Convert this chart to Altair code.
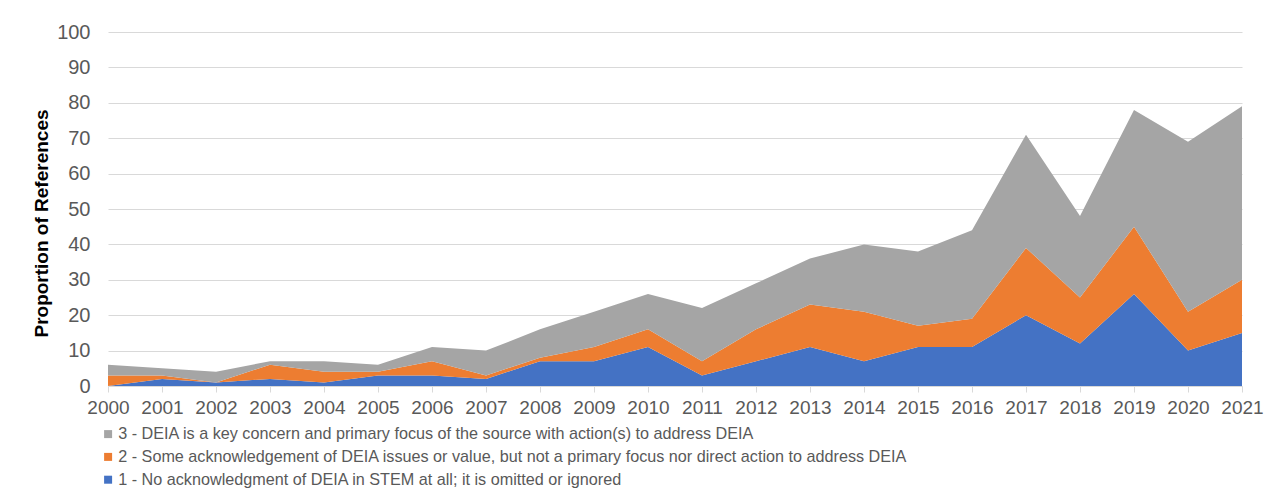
import altair as alt
import pandas as pd

years = list(range(2000, 2022))
cat1 = [0, 2, 1, 2, 1, 3, 3, 2, 7, 7, 11, 3, 7, 11, 7, 11, 11, 20, 12, 26, 10, 15]
cat2 = [3, 1, 0, 4, 3, 1, 4, 1, 1, 4, 5, 4, 9, 12, 14, 6, 8, 19, 13, 19, 11, 15]
cat3 = [3, 2, 3, 1, 3, 2, 4, 7, 8, 10, 10, 15, 13, 13, 19, 21, 25, 32, 23, 33, 48, 49]

label1 = "1 - No acknowledgment of DEIA in STEM at all; it is omitted or ignored"
label2 = "2 - Some acknowledgement of DEIA issues or value, but not a primary focus nor direct action to address DEIA"
label3 = "3 - DEIA is a key concern and primary focus of the source with action(s) to address DEIA"

y_ticks = list(range(0, 101, 10))

rows = []
for i, yr in enumerate(years):
    rows.append({"year": yr, "value": cat1[i], "cat": label1, "rank": 1})
    rows.append({"year": yr, "value": cat2[i], "cat": label2, "rank": 2})
    rows.append({"year": yr, "value": cat3[i], "cat": label3, "rank": 3})
df = pd.DataFrame(rows)

FONT = "Liberation Sans"

chart = alt.Chart(df).mark_area(opacity=1).encode(
    x=alt.X("year:Q",
            scale=alt.Scale(domain=[2000, 2021], nice=False, zero=False),
            axis=alt.Axis(values=years, format="d", title=None, grid=False,
                          labelFontSize=19, labelColor="#595959", labelFont=FONT,
                          tickSize=6, tickColor="#D9D9D9", domainColor="#D9D9D9",
                          labelPadding=6, labelFlush=False, labelOverlap=False)),
    y=alt.Y("value:Q", stack="zero",
            scale=alt.Scale(domain=[0, 100], nice=False),
            axis=alt.Axis(values=y_ticks, title="Proportion of References",
                          titleFont=FONT, titleFontSize=19, titleFontWeight="bold",
                          titleColor="#000000", titleY=191, titleX=-57,
                          labelFontSize=20, labelColor="#595959", labelFont=FONT,
                          ticks=False, domain=False, labelPadding=18,
                          gridColor="#D9D9D9", gridWidth=1)),
    color=alt.Color("cat:N",
                    scale=alt.Scale(domain=[label3, label2, label1],
                                    range=["#A5A5A5", "#ED7D31", "#4472C4"]),
                    legend=alt.Legend(title=None, orient="none", legendX=-8, legendY=394,
                                      direction="vertical", symbolType="square",
                                      symbolSize=64, symbolStrokeWidth=0,
                                      labelFontSize=16.2, labelFont=FONT,
                                      labelColor="#595959", labelLimit=1000,
                                      rowPadding=5.8, labelOffset=2)),
    order=alt.Order("rank:Q", sort="ascending"),
).properties(
    width=1134,
    height=354,
    autosize=alt.AutoSizeParams(type="none"),
    padding={"left": 100, "top": 24, "right": 24, "bottom": 108},
).configure(background="white").configure_view(stroke=None)

chart.save("out.html", embed_options={"renderer": "svg", "actions": False})
